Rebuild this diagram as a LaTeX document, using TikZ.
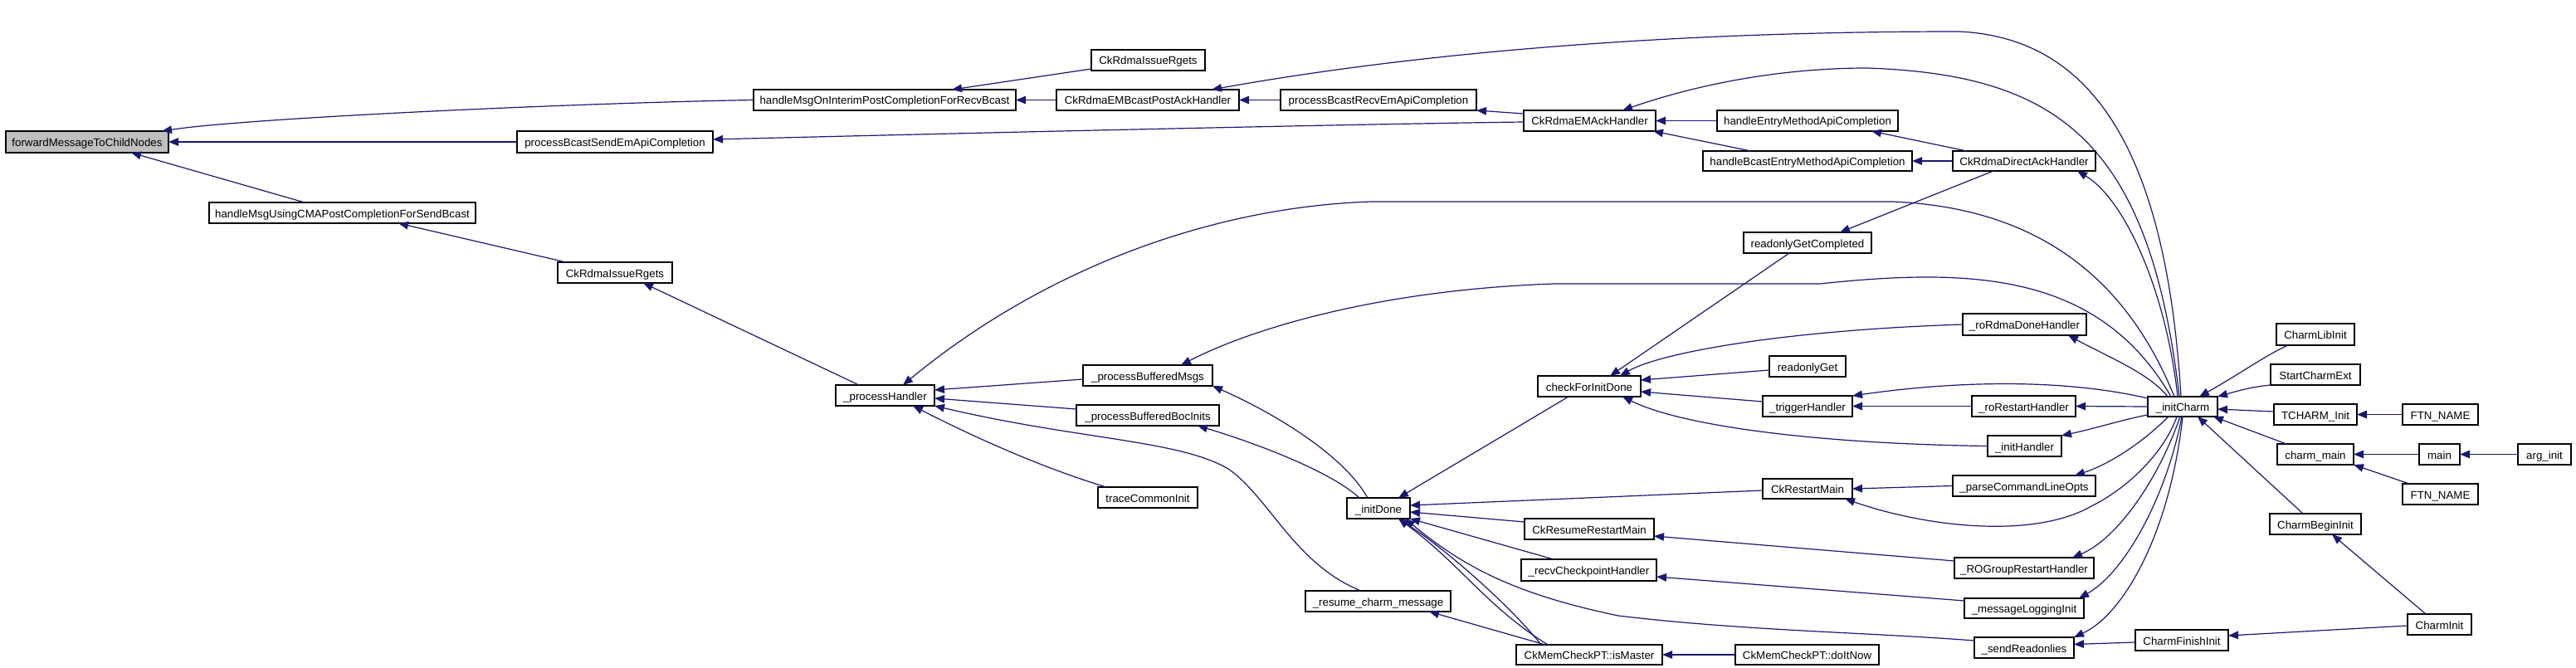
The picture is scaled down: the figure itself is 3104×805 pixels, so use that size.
\documentclass[tikz,border=0pt]{standalone}
\usepackage{fontspec}
\setmainfont{Liberation Sans}
\usetikzlibrary{arrows.meta}
\definecolor{edgec}{HTML}{191970}
\definecolor{hilite}{HTML}{BFBFBF}
\tikzset{
  box/.style={draw=black, line width=1.2pt, rectangle, inner sep=0pt, outer sep=0pt,
    font=\fontsize{13.3}{16}\selectfont, text height=11pt, text depth=0pt, align=center},
  edge/.style={draw=edgec, line width=1.2pt, {Triangle[length=12pt,width=9.5pt,fill=edgec]}-},
}
\newcommand\nd[7][]{\node[box,#1,minimum width={(#5)-(#3)},minimum height={(#6)-(#4)}] (#2) at ({((#3)+(#5))/2},{((#4)+(#6))/2}) {#7};}
\begin{document}
\begin{tikzpicture}[x=1pt,y=-1pt]
\useasboundingbox (0,0) rectangle (3104,805);
\nd[fill=hilite]{fwd}{7}{158}{203}{184}{forwardMessageToChildNodes}
\nd{hmo}{908}{108}{1224}{133}{handleMsgOnInterimPostCompletionForRecvBcast}
\nd{pbs}{623}{158}{859}{184}{processBcastSendEmApiCompletion}
\nd{hmu}{252}{244}{573}{269}{handleMsgUsingCMAPostCompletionForSendBcast}
\nd{cir2}{672}{316}{810}{341}{CkRdmaIssueRgets}
\nd{ph}{1007}{464}{1126}{489}{\_processHandler}
\nd{cir1}{1315}{60}{1452}{85}{CkRdmaIssueRgets}
\nd{cebp}{1273}{108}{1493}{133}{CkRdmaEMBcastPostAckHandler}
\nd{pbr}{1543}{108}{1779}{133}{processBcastRecvEmApiCompletion}
\nd{ceah}{1836}{133}{1995}{158}{CkRdmaEMAckHandler}
\nd{hema}{2069}{133}{2287}{158}{handleEntryMethodApiCompletion}
\nd{hbema}{2052}{182}{2304}{206}{handleBcastEntryMethodApiCompletion}
\nd{cdah}{2353}{182}{2525}{206}{CkRdmaDirectAckHandler}
\nd{rgc}{2101}{280}{2255}{305}{readonlyGetCompleted}
\nd{rrdh}{2365}{378}{2514}{404}{\_roRdmaDoneHandler}
\nd{pbm}{1305}{440}{1461}{465}{\_processBufferedMsgs}
\nd{pbb}{1297}{488}{1469}{513}{\_processBufferedBocInits}
\nd{tci}{1323}{587}{1443}{612}{traceCommonInit}
\nd{cfid}{1853}{453}{1977}{478}{checkForInitDone}
\nd{idn}{1623}{600}{1699}{625}{\_initDone}
\nd{crrm}{1837}{625}{1993}{650}{CkResumeRestartMain}
\nd{rch}{1833}{674}{1996}{700}{\_recvCheckpointHandler}
\nd{rcm}{1573}{712}{1748}{737}{\_resume\_charm\_message}
\nd{cim}{1827}{777}{2003}{801}{CkMemCheckPT::isMaster}
\nd{rg}{2132}{429}{2224}{454}{readonlyGet}
\nd{th}{2124}{477}{2232}{502}{\_triggerHandler}
\nd{rrh}{2376}{477}{2501}{502}{\_roRestartHandler}
\nd{ih}{2395}{525}{2484}{550}{\_initHandler}
\nd{crm}{2124}{577}{2232}{601}{CkRestartMain}
\nd{pclo}{2353}{573}{2525}{598}{\_parseCommandLineOpts}
\nd{rgrh}{2355}{672}{2523}{697}{\_ROGroupRestartHandler}
\nd{mli}{2367}{721}{2511}{745}{\_messageLoggingInit}
\nd{sro}{2379}{768}{2499}{793}{\_sendReadonlies}
\nd{cdin}{2091}{777}{2264}{801}{CkMemCheckPT::doItNow}
\nd{ic}{2588}{478}{2672}{502}{\_initCharm}
\nd{cli}{2743}{390}{2837}{416}{CharmLibInit}
\nd{sce}{2736}{439}{2844}{464}{StartCharmExt}
\nd{tcm}{2740}{487}{2840}{512}{TCHARM\_Init}
\nd{ftna}{2895}{487}{2986}{512}{FTN\_NAME}
\nd{cm}{2744}{535}{2836}{560}{charm\_main}
\nd{mn}{2915}{535}{2964}{560}{main}
\nd{ai}{3034}{535}{3098}{560}{arg\_init}
\nd{ftnb}{2895}{583}{2986}{608}{FTN\_NAME}
\nd{cbi}{2735}{619}{2845}{644}{CharmBeginInit}
\nd{cin}{2901}{740}{2978}{765}{CharmInit}
\nd{cfi}{2573}{759}{2685}{784}{CharmFinishInit}
% edges
\draw[edge] ([xshift=-8pt]fwd.north east) .. controls (300,142) and (700,124) .. (hmo.west);
\draw[edge] (fwd.east) -- (pbs.west);
\draw[edge] ([xshift=-45pt]fwd.south east) -- ([xshift=115pt]hmu.north west);
\draw[edge] ([xshift=239pt]hmo.north west) -- ([yshift=2pt]cir1.south west);
\draw[edge] (hmo.east) -- (cebp.west);
\draw[edge] (cebp.east) -- (pbr.west);
\draw[edge] ([xshift=-33pt]cebp.north east) .. controls (1700,65) and (2000,38) .. (2360,38) .. controls (2520,45) and (2610,180) .. ([xshift=40pt]ic.north west);
\draw[edge] (pbr.south east) -- ([yshift=-4pt]ceah.north west);
\draw[edge] ([yshift=3pt]pbs.east) .. controls (1100,162) and (1600,150) .. ([yshift=-1.5pt]ceah.west);
\draw[edge] ([xshift=-40pt]ceah.north east) .. controls (2050,100) and (2150,82) .. (2250,82) .. controls (2480,90) and (2590,170) .. ([xshift=38pt]ic.north west);
\draw[edge] (ceah.east) -- (hema.west);
\draw[edge] ([xshift=-3pt]ceah.south east) -- ([xshift=58pt]hbema.north west);
\draw[edge] ([xshift=-32pt]hema.south east) -- ([xshift=17pt]cdah.north west);
\draw[edge] (hbema.east) -- (cdah.west);
\draw[edge] ([xshift=-22pt]cdah.south east) .. controls (2560,240) and (2610,350) .. ([xshift=36pt]ic.north west);
\draw[edge] ([xshift=-38pt]rgc.north east) -- ([xshift=49pt]cdah.south west);
\draw[edge] ([xshift=-37pt]cfid.north east) -- ([xshift=55pt]rgc.south west);
\draw[edge] ([xshift=81pt]ph.north west) .. controls (1250,330) and (1450,250) .. (1652,243) -- (2280,243) .. controls (2450,250) and (2560,330) .. ([xshift=32pt]ic.north west);
\draw[edge] ([xshift=118pt]pbm.north west) .. controls (1500,400) and (1650,350) .. (1872,342) -- (2193,342) .. controls (2380,322) and (2530,330) .. ([xshift=28pt]ic.north west);
\draw[edge] (pbm.south east) .. controls (1540,500) and (1620,550) .. ([xshift=25pt]idn.north west);
\draw[edge] ([xshift=-26pt]pbb.south east) .. controls (1500,530) and (1600,565) .. ([xshift=15pt]idn.north west);
\draw[edge] ([yshift=6.5pt]ph.east) -- ([yshift=-4.5pt]pbm.west);
\draw[edge] ([yshift=-3.5pt]ph.east) -- ([yshift=7.5pt]pbb.west);
\draw[edge] (ph.south east) .. controls (1300,530) and (1420,530) .. (1480,565) .. controls (1530,600) and (1560,680) .. ([xshift=67pt]rcm.north west);
\draw[edge] ([xshift=-26pt]ph.south east) .. controls (1180,530) and (1260,565) .. ([xshift=10pt]tci.north west);
\draw[edge] ([xshift=-35pt]cir2.south east) -- ([xshift=28pt]ph.north west);
\draw[edge] ([xshift=-93pt]hmu.south east) -- ([xshift=10pt]cir2.north west);
\draw[edge] ([xshift=-14pt]idn.north east) -- ([xshift=37pt]cfid.south west);
\draw[edge] ([yshift=3.5pt]idn.east) -- ([yshift=-2pt]crm.west);
\draw[edge] ([yshift=-4.5pt]idn.east) -- ([yshift=8.5pt]crrm.west);
\draw[edge] (idn.south east) -- ([xshift=39pt]rch.north west);
\draw[edge] ([xshift=-6pt]idn.south east) .. controls (1760,680) and (1820,715) .. (1950,742) .. controls (2100,760) and (2250,762) .. ([yshift=8.5pt]sro.west);
\draw[edge] ([xshift=-14pt]idn.south east) .. controls (1760,680) and (1790,730) .. ([xshift=38pt]cim.north west);
\draw[edge] ([xshift=-14pt]idn.south east) .. controls (1740,660) and (1820,730) .. ([xshift=30pt]cim.north west);
\draw[edge] ([xshift=-26pt]rcm.south east) -- ([xshift=35pt]cim.north west);
\draw[edge] (cim.east) -- (cdin.west);
\draw[edge] ([xshift=-25pt]cfid.north east) .. controls (2000,425) and (2150,398) .. (rrdh.west);
\draw[edge] ([yshift=7.5pt]cfid.east) -- ([yshift=-4.5pt]rg.west);
\draw[edge] ([yshift=-6.5pt]cfid.east) -- ([yshift=5.5pt]th.west);
\draw[edge] ([xshift=-22pt]cfid.south east) .. controls (2030,515) and (2200,535) .. (ih.west);
\draw[edge] (th.north east) .. controls (2350,460) and (2480,455) .. ([yshift=-2pt]ic.north west);
\draw[edge] (th.east) -- (rrh.west);
\draw[edge] (rrh.east) -- (ic.west);
\draw[edge] ([xshift=-22pt]rrdh.south east) .. controls (2540,430) and (2590,450) .. ([xshift=24pt]ic.north west);
\draw[edge] (ih.north east) .. controls (2530,515) and (2560,505) .. ([yshift=2pt]ic.south west);
\draw[edge] (crm.east) -- (pclo.west);
\draw[edge] ([xshift=-9pt]crm.south east) .. controls (2320,635) and (2450,650) .. (2520,610) .. controls (2570,585) and (2610,540) .. ([xshift=35pt]ic.south west);
\draw[edge] ([xshift=-25pt]pclo.north east) .. controls (2540,560) and (2580,535) .. ([xshift=25pt]ic.south west);
\draw[edge] ([xshift=-26pt]rgrh.north east) .. controls (2550,650) and (2600,580) .. ([xshift=39pt]ic.south west);
\draw[edge] ([yshift=-8.5pt]crrm.east) -- ([yshift=8.5pt]rgrh.west);
\draw[edge] ([yshift=-8pt]rch.east) -- ([yshift=9pt]mli.west);
\draw[edge] ([xshift=-6pt]mli.north east) .. controls (2560,690) and (2610,600) .. ([xshift=41pt]ic.south west);
\draw[edge] (sro.north east) .. controls (2560,740) and (2615,640) .. ([xshift=42pt]ic.south west);
\draw[edge] ([yshift=4pt]sro.east) -- ([yshift=-2.5pt]cfi.west);
\draw[edge] ([xshift=-22pt]ic.north east) .. controls (2700,450) and (2730,428) .. ([xshift=14pt]cli.south west);
\draw[edge] (ic.north east) .. controls (2700,470) and (2715,466) .. (sce.south west);
\draw[edge] ([yshift=-3pt]ic.east) -- ([yshift=3.5pt]tcm.west);
\draw[edge] ([xshift=-5pt]ic.south east) -- ([xshift=11pt]cm.north west);
\draw[edge] ([xshift=-24pt]ic.south east) -- ([xshift=40pt]cbi.north west);
\draw[edge] (tcm.east) -- (ftna.west);
\draw[edge] (cm.east) -- (mn.west);
\draw[edge] (mn.east) -- (ai.west);
\draw[edge] (cm.south east) -- ([xshift=8pt]ftnb.north west);
\draw[edge] ([xshift=-35pt]cbi.south east) -- ([xshift=22pt]cin.north west);
\draw[edge] ([yshift=5.5pt]cfi.east) -- ([yshift=-1.5pt]cin.west);
\end{tikzpicture}
\end{document}
